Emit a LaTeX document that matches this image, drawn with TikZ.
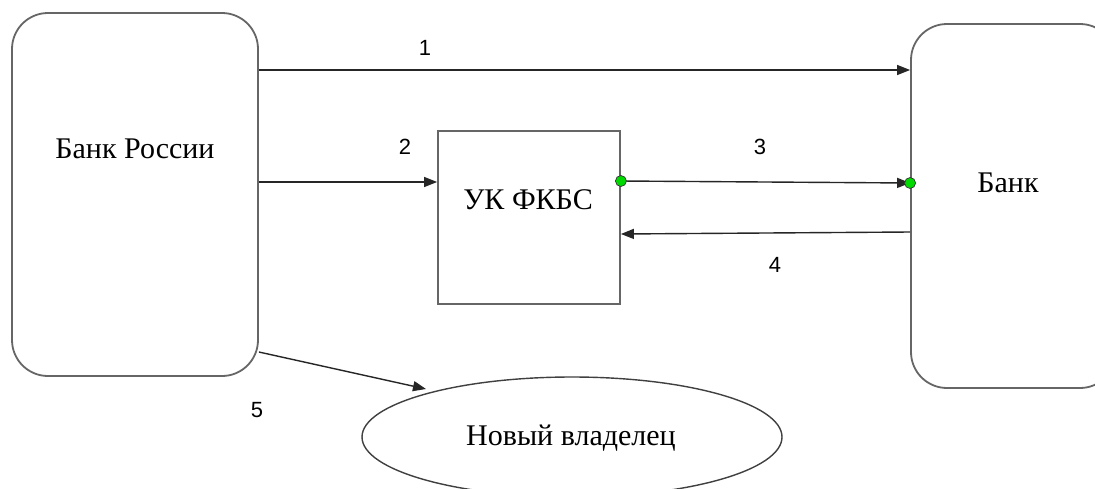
\documentclass[tikz,border=0pt]{standalone}
\usepackage{fontspec}
\setmainfont{Liberation Serif}
\newfontfamily\labfont{Liberation Sans}
\usetikzlibrary{shapes.geometric,arrows.meta}
\begin{document}
\begin{tikzpicture}[x=1pt,y=-1pt,
  boxline/.style={draw=black!60,line width=1.8pt},
  rbox/.style={boxline,rectangle,rounded corners=36pt,inner sep=0pt},
  conn/.style={draw=black!85,line width=1.4pt,-{Triangle[length=13pt,width=10pt]}},
  num/.style={font=\labfont\fontsize{22}{26}\selectfont,inner sep=0pt},
  btext/.style={font=\fontsize{30}{34}\selectfont},
  gdot/.style={circle,fill=green!85!black,draw=black!80,line width=0.7pt,inner sep=0pt,minimum size=11pt}]
\useasboundingbox (0,0) rectangle (1095,488);
\fill[white] (0,0) rectangle (1095,488);
\node[rbox,minimum width=246pt,minimum height=363pt] (lb) at (135,194.5) {};
\node[btext] (lbt) at (135,149) {Банк России};
\node[rbox,minimum width=205pt,minimum height=364pt] (rb) at (1013.5,206) {};
\node[btext] (rbt) at (1008,183) {Банк};
\node[boxline,rectangle,inner sep=0pt,minimum width=182pt,minimum height=173pt] (uk) at (529,217.5) {};
\node[btext] (ukt) at (528,200) {УК ФКБС};
\node[boxline,ellipse,inner sep=0pt,minimum width=420pt,minimum height=120pt,draw=black!75,line width=1.4pt] (ne) at (572,437) {};
\node[btext] (net) at (571,438) {Новый владелец};
\coordinate (t5) at (426,389);
\draw[conn] (lb.east |- 0,70) -- (rb.west |- 0,70);
\draw[conn] (lb.east |- 0,182) -- (uk.west |- 0,182);
\draw[conn] (uk.east |- 0,181) -- (rb.west |- 0,183);
\draw[conn] (rb.west |- 0,232) -- (uk.east |- 0,234);
\draw[conn] (lb.east |- 0,352) -- (t5);
\node[gdot] (g1) at (uk.east |- 0,181) {};
\node[gdot] (g2) at (rb.west |- 0,183) {};
\node[num] (n1) at (425,48) {1};
\node[num] (n2) at (405,147) {2};
\node[num] (n3) at (760,147) {3};
\node[num] (n4) at (775,265) {4};
\node[num] (n5) at (257,410) {5};
\end{tikzpicture}
\end{document}
